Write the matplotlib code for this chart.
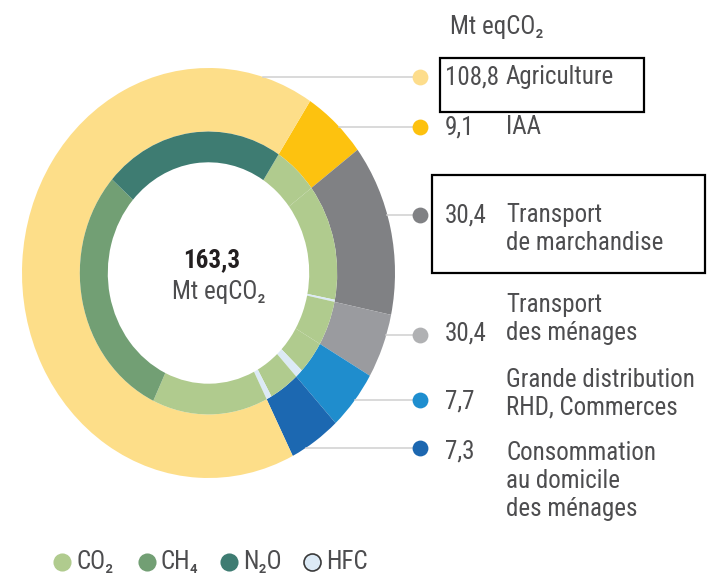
import numpy as np
import matplotlib
matplotlib.use('Agg')
import matplotlib.pyplot as plt
from matplotlib import font_manager

# secteurs (anneau extérieur), sens horaire en partant de IAA
secteurs = ['IAA', 'Transport de marchandise', 'Transport des ménages',
            'Grande distribution', 'Consommation', 'Agriculture']
emissions = [9.1, 22.1, 8.3, 7.7, 7.3, 108.8]
couleurs_secteurs = ['#FDC20F', '#808184', '#9A9B9F', '#1F8DCD', '#1C68B1', '#FDDE89']

# répartition par gaz dans chaque secteur (anneau intérieur)
gaz = ['CO₂', 'CH₄', 'N₂O', 'HFC']
co2 = [9.1, 21.7, 8.3, 6.1, 6.2, 23.7]
ch4 = [0, 0, 0, 0, 0, 48.1]
n2o = [0, 0, 0, 0, 0, 37.0]
hfc = [0, 0.4, 0, 1.6, 1.1, 0]
couleurs_gaz = ['#B0CB8E', '#729F74', '#3E7C72', '#DCEAF6']

# étiquettes à droite (de haut en bas)
noms = ['Agriculture', 'IAA', 'Transport\nde marchandise', 'Transport\ndes ménages',
        'Grande distribution\nRHD, Commerces', 'Consommation\nau domicile\ndes ménages']
valeurs_affichees = ['108,8', '9,1', '30,4', '30,4', '7,7', '7,3']
couleurs_points = ['#FDDD8C', '#FDC10E', '#808184', '#B0B1B3', '#1E8ECF', '#1C67B0']
total_affiche = '163,3'

# mise en page (pixels)
W, H = 717, 578
y_points = [77, 127, 215, 335, 400, 448]
y_valeurs = [77, 127, 215, 333, 402, 452]
y_noms = [77, 127, 215, 305, 380, 453]
interligne = 28
gris_texte = '#4D4D4F'

# police étroite si dispo, sinon Roboto
dispo = set(f.name for f in font_manager.fontManager.ttflist)
police, taille = ['Roboto', 'DejaVu Sans'], 16
for nom_police in ['Roboto Condensed', 'Liberation Sans Narrow', 'Open Sans Condensed']:
    if nom_police in dispo:
        police, taille = [nom_police, 'DejaVu Sans'], 18
        break

# boite de l'anneau (pixels) : gauche, haut, droite, bas
g, h, d, b = 22, 68, 395, 478
cx, cy = (g + d) / 2, (h + b) / 2
rx, ry = (d - g) / 2, (b - h) / 2

fig = plt.figure(figsize=(W / 100, H / 100), dpi=100)

# ---- anneaux
ax_d = fig.add_axes([g / W, (H - b) / H, (d - g) / W, (b - h) / H])
ax_d.pie(emissions, radius=1, colors=couleurs_secteurs, startangle=57, counterclock=False,
         wedgeprops=dict(width=0.31, linewidth=0))

valeurs_int = []
couleurs_int = []
for i in range(len(secteurs)):
    for j, serie in enumerate([co2, ch4, n2o, hfc]):
        if serie[i] > 0:
            valeurs_int.append(serie[i])
            couleurs_int.append(couleurs_gaz[j])
ax_d.pie(valeurs_int, radius=0.69, colors=couleurs_int, startangle=57, counterclock=False,
         wedgeprops=dict(width=0.15, linewidth=0))
ax_d.set_aspect('auto')
ax_d.set_xlim(-1, 1)
ax_d.set_ylim(-1, 1)
ax_d.axis('off')

# ---- textes et traits
ax = fig.add_axes([0, 0, 1, 1])
ax.set_xlim(0, W)
ax.set_ylim(H, 0)
ax.axis('off')

x_point = 420
for i in range(len(noms)):
    yp = y_points[i]
    dy = (yp - cy) / ry
    x0 = cx + rx * np.sqrt(max(0, 1 - dy ** 2))
    ax.plot([x0, x_point], [yp, yp], color='#CFCFCF', lw=1.1, zorder=1)
    ax.scatter([x_point], [yp], s=130, color=couleurs_points[i], zorder=2, linewidths=0)
    ax.text(445, y_valeurs[i], valeurs_affichees[i], fontsize=taille, family=police,
            color=gris_texte, va='center', ha='left')
    for k, ligne in enumerate(noms[i].split('\n')):
        ax.text(506, y_noms[i] + k * interligne, ligne, fontsize=taille, family=police,
                color=gris_texte, va='center', ha='left')

ax.text(450, 27, 'Mt eqCO₂', fontsize=taille, family=police, color=gris_texte,
        va='center', ha='left')

# centre
ax.text(212, 260, total_affiche, fontsize=taille, family=police, fontweight='bold',
        color='#231F20', va='center', ha='center')
ax.text(219, 292, 'Mt eqCO₂', fontsize=taille, family=police, color=gris_texte,
        va='center', ha='center')

# cadres
ax.add_patch(plt.Rectangle((440, 58), 204, 54, fill=False, ec='black', lw=1.6))
ax.add_patch(plt.Rectangle((432, 175), 273, 98, fill=False, ec='black', lw=1.6))

# légende des gaz
x_leg = [62, 147, 229, 312]
for j, nom in enumerate(gaz):
    if nom == 'HFC':
        ax.scatter([x_leg[j]], [562], s=150, color=couleurs_gaz[j], edgecolors='#3A3A3A',
                   linewidths=1.2, zorder=2)
    else:
        ax.scatter([x_leg[j]], [562], s=170, color=couleurs_gaz[j], linewidths=0, zorder=2)
    ax.text(x_leg[j] + 14, 562, nom, fontsize=taille, family=police, color=gris_texte,
            va='center', ha='left')

fig.savefig('out.png', dpi=100)
